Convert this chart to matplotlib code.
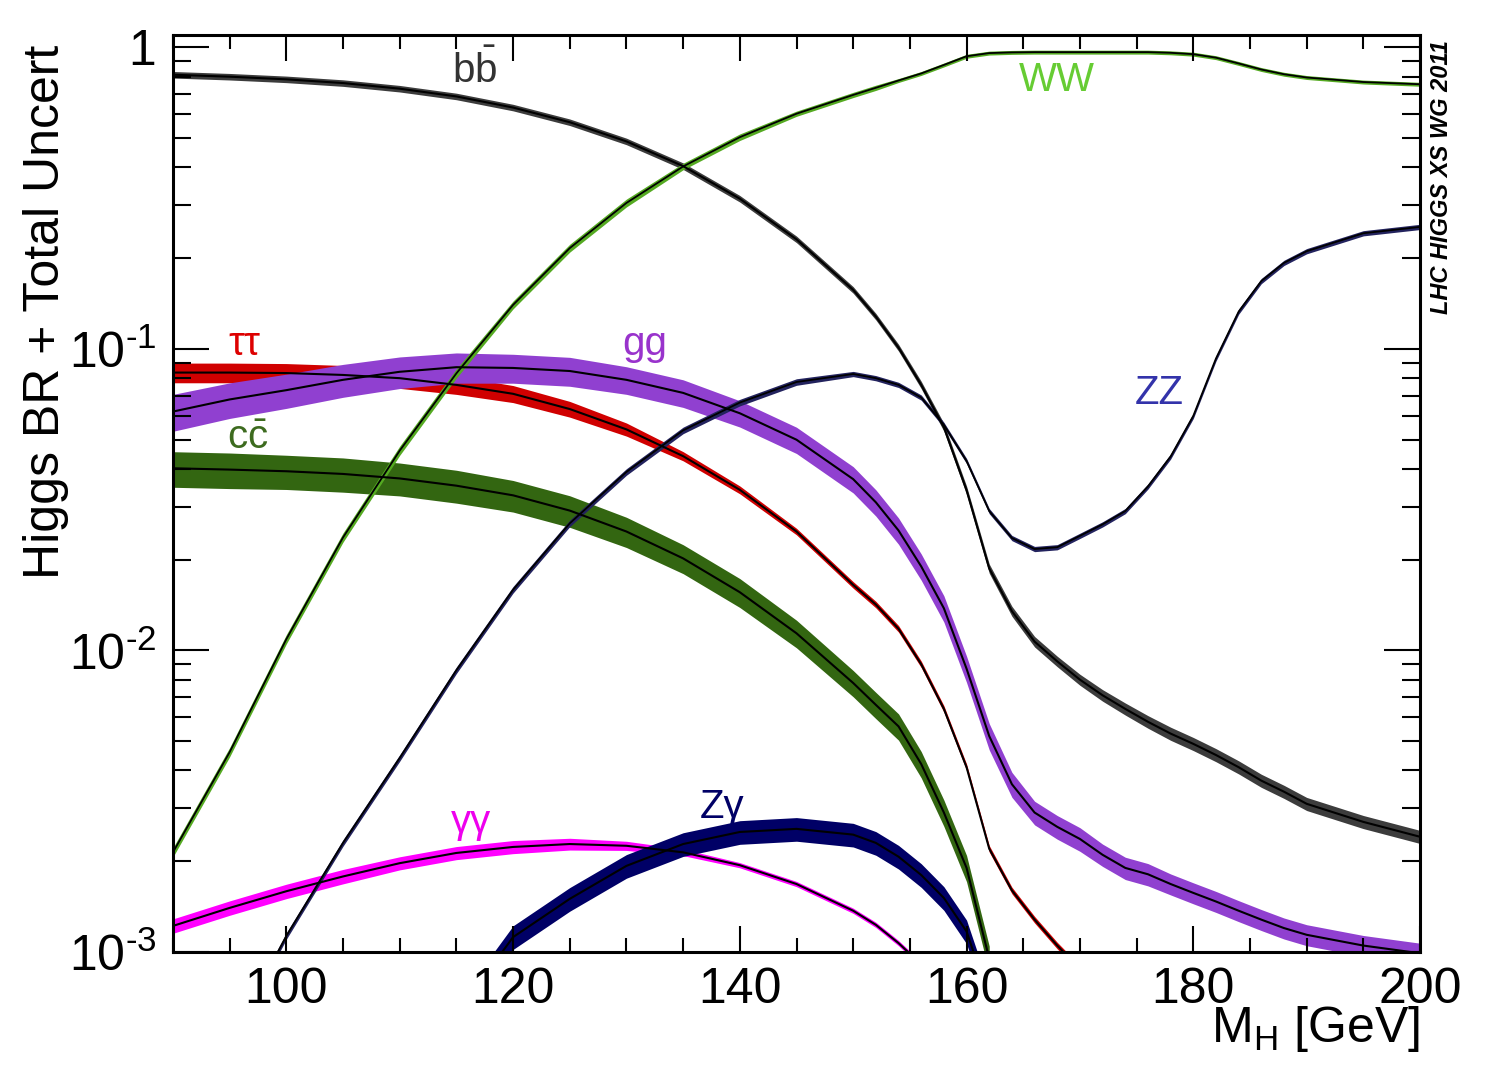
import numpy as np
import matplotlib
matplotlib.use("Agg")
import matplotlib.pyplot as plt
from matplotlib.ticker import MultipleLocator, LogLocator, NullFormatter

plt.rcParams['font.family'] = ['Liberation Sans', 'DejaVu Sans']
plt.rcParams['mathtext.fontset'] = 'custom'
plt.rcParams['mathtext.rm'] = 'Liberation Sans'
plt.rcParams['mathtext.it'] = 'Liberation Sans:italic'
plt.rcParams['mathtext.bf'] = 'Liberation Sans:bold'

nan = np.nan

# -----------------------------
# Higgs mass points [GeV]
# -----------------------------
mass = [90, 95, 100, 105, 110, 115, 120, 125, 130, 135, 140, 145, 150,
        152, 154, 156, 158, 160, 162, 164, 166, 168, 170, 172, 174, 176, 178, 180,
        182, 184, 186, 188, 190, 195, 200]

# -----------------------------
# branching ratios
# -----------------------------
br_bb = [0.812, 0.800, 0.784, 0.762, 0.730, 0.688, 0.632, 0.565, 0.488, 0.404, 0.315, 0.231, 0.157,
         0.128, 0.101, 0.076, 0.055, 0.034, 0.0187, 0.0135, 0.0107, 0.0092, 0.0080, 0.0071, 0.0064, 0.0058, 0.0053, 0.0049,
         0.0045, 0.0041, 0.0037, 0.0034, 0.0031, 0.0027, 0.00241]
br_ww = [0.00214, 0.0046, 0.0109, 0.0237, 0.046, 0.083, 0.140, 0.216, 0.305, 0.403, 0.504, 0.603, 0.696,
         0.735, 0.777, 0.820, 0.875, 0.935, 0.958, 0.963, 0.965, 0.965, 0.965, 0.965, 0.965, 0.965, 0.960, 0.950,
         0.925, 0.885, 0.845, 0.815, 0.795, 0.768, 0.755]
br_zz = [nan, 0.00050, 0.00113, 0.0023, 0.0044, 0.0086, 0.0159, 0.0264, 0.0391, 0.0537, 0.0664, 0.0777, 0.0826,
         0.080, 0.076, 0.069, 0.056, 0.0425, 0.029, 0.0236, 0.0217, 0.0220, 0.0240, 0.0262, 0.029, 0.035, 0.044, 0.060,
         0.093, 0.133, 0.168, 0.193, 0.211, 0.242, 0.254]
br_gg = [0.062, 0.068, 0.073, 0.079, 0.084, 0.087, 0.0865, 0.0845, 0.079, 0.0715, 0.0612, 0.050, 0.037,
         0.031, 0.025, 0.019, 0.0138, 0.0087, 0.0052, 0.0036, 0.0029, 0.0026, 0.00237, 0.0021, 0.0019, 0.00181, 0.00168, 0.00157,
         0.00147, 0.00137, 0.00128, 0.00120, 0.00114, 0.00105, 0.00099]
br_tautau = [0.0835, 0.0835, 0.0832, 0.0820, 0.0800, 0.0760, 0.0710, 0.0632, 0.0541, 0.0441, 0.0341, 0.0248, 0.0165,
             0.0142, 0.0118, 0.0090, 0.0064, 0.0041, 0.0022, 0.0016, 0.00128, 0.00105, 0.00088, nan, nan, nan, nan, nan,
             nan, nan, nan, nan, nan, nan, nan]
br_cc = [0.0402, 0.0398, 0.0393, 0.0385, 0.0372, 0.0352, 0.0327, 0.0291, 0.0248, 0.0202, 0.0156, 0.0114, 0.0078,
         0.0066, 0.0056, 0.0042, 0.0029, 0.0019, 0.00095, nan, nan, nan, nan, nan, nan, nan, nan, nan,
         nan, nan, nan, nan, nan, nan, nan]
br_gamgam = [0.00122, 0.00140, 0.00159, 0.00178, 0.00197, 0.00213, 0.00223, 0.00228, 0.00225, 0.00214, 0.00194, 0.00168, 0.00137,
             0.00123, 0.00107, 0.00091, nan, nan, nan, nan, nan, nan, nan, nan, nan, nan, nan, nan,
             nan, nan, nan, nan, nan, nan, nan]
br_zgam = [nan, nan, nan, nan, nan, 0.00062, 0.00112, 0.00150, 0.00193, 0.00228, 0.00250, 0.00256, 0.00245,
           0.00230, 0.00207, 0.00180, 0.00151, 0.00117, 0.00070, nan, nan, nan, nan, nan, nan, nan, nan, nan,
           nan, nan, nan, nan, nan, nan, nan]

# -----------------------------
# total uncertainty [%]
# -----------------------------
unc_bb = [2.5, 2.5, 2.5, 2.5, 2.5, 2.5, 2.5, 2.5, 2.5, 2.5, 2.5, 2.5, 2.5,
          2.5, 2.6, 2.8, 3.0, 3.2, 3.5, 3.8, 4.0, 4.0, 4.2, 4.4, 4.6, 4.8, 5.0, 5.0,
          5.0, 5.0, 5.0, 5.0, 5.0, 5.0, 5.0]
unc_ww = [3.5, 3.5, 3.5, 3.5, 3.5, 3.5, 3.0, 3.0, 3.0, 2.5, 2.5, 2.0, 2.0,
          2.0, 1.5, 1.5, 1.5, 1.5, 1.5, 1.5, 1.5, 1.5, 1.5, 1.5, 1.5, 1.5, 1.5, 1.5,
          1.5, 1.5, 1.5, 1.5, 1.5, 1.5, 1.5]
unc_zz = [2.5, 2.5, 2.5, 2.5, 2.5, 2.5, 2.5, 2.5, 2.5, 2.5, 2.5, 2.5, 2.0,
          2.0, 2.0, 2.0, 2.0, 2.0, 2.0, 2.0, 2.0, 2.0, 2.0, 2.0, 2.0, 2.0, 2.0, 2.0,
          2.0, 2.0, 2.0, 2.0, 2.0, 2.0, 2.0]
unc_gg = [14.0, 13.5, 13.0, 12.5, 12.0, 11.5, 11.0, 11.0, 10.5, 10.5, 10.0, 10.0, 10.0,
          10.0, 10.0, 10.0, 10.0, 10.0, 10.0, 9.5, 9.0, 9.0, 9.0, 8.5, 8.5, 8.5, 8.0, 8.0,
          8.0, 8.0, 8.0, 8.0, 8.0, 8.0, 8.0]
unc_tautau = [7.5, 7.5, 7.5, 7.5, 7.5, 7.0, 6.5, 6.0, 5.0, 3.5, 3.0, 2.5, 2.5,
              2.5, 2.5, 2.5, 2.5, 2.5, 2.5, 2.5, 2.5, 2.5, 2.5, 2.5, 2.5, 2.5, 2.5, 2.5,
              2.5, 2.5, 2.5, 2.5, 2.5, 2.5, 2.5]
unc_cc = [13.5, 13.5, 13.0, 13.0, 12.5, 12.5, 12.0, 12.0, 11.5, 11.0, 11.0, 10.5, 10.0,
          10.0, 10.0, 10.0, 10.0, 10.0, 10.0, 10.0, 10.0, 10.0, 10.0, 10.0, 10.0, 10.0, 10.0, 10.0,
          10.0, 10.0, 10.0, 10.0, 10.0, 10.0, 10.0]
unc_gamgam = [5.5, 5.5, 5.5, 5.5, 5.0, 5.0, 5.0, 4.5, 3.5, 2.5, 2.0, 2.0, 2.0,
              2.0, 2.0, 2.0, 2.0, 2.0, 2.0, 2.0, 2.0, 2.0, 2.0, 2.0, 2.0, 2.0, 2.0, 2.0,
              2.0, 2.0, 2.0, 2.0, 2.0, 2.0, 2.0]
unc_zgam = [9.0, 9.0, 9.0, 9.0, 9.0, 9.0, 9.0, 9.0, 9.0, 9.0, 9.0, 9.0, 9.0,
            9.0, 9.0, 9.0, 9.0, 9.0, 9.0, 9.0, 9.0, 9.0, 9.0, 9.0, 9.0, 9.0, 9.0, 9.0,
            9.0, 9.0, 9.0, 9.0, 9.0, 9.0, 9.0]

fig = plt.figure(figsize=(15, 10.83), dpi=100)
ax = fig.add_axes([0.1153, 0.121, 0.8314, 0.8467])


def draw_band(br, unc, fill_color, lw=1.5):
    br = np.array(br)
    rel = np.array(unc) / 100.0
    ax.fill_between(mass, br * (1 - rel), br * (1 + rel), color=fill_color, lw=0)
    ax.plot(mass, br, color='black', lw=lw, solid_joinstyle='round')


# -----------------------------
# bands + central values
# -----------------------------
draw_band(br_tautau, unc_tautau, '#d00000')
draw_band(br_gg, unc_gg, '#9040d0')
draw_band(br_cc, unc_cc, '#336611')
draw_band(br_gamgam, unc_gamgam, '#ff00ff')
draw_band(br_zgam, unc_zgam, '#000066')
draw_band(br_bb, unc_bb, '#3c3c3c')
draw_band(br_ww, unc_ww, '#55aa22', lw=1.3)
draw_band(br_zz, unc_zz, '#23235e', lw=1.3)

# -----------------------------
# channel labels
# -----------------------------
lab = dict(fontsize=29, ha='center', va='center')
ax.text(116.6, 0.84, r'$\mathrm{b\bar{b}}$', color='#333333', **lab)
ax.text(168.0, 0.78, 'WW', color='#66cc33', **lab)
ax.text(177.0, 0.0714, 'ZZ', color='#3333aa', **lab)
ax.text(96.3, 0.104, 'ττ', color='#dd0000', **lab)
ax.text(131.6, 0.104, 'gg', color='#9933cc', **lab)
ax.text(96.6, 0.0506, r'$\mathrm{c\bar{c}}$', color='#3d6b1f', **lab)
ax.text(116.3, 0.0027, 'γγ', color='#ee00ee', **lab)
ax.text(138.4, 0.00303, 'Zγ', color='#000066', **lab)

# -----------------------------
# axes
# -----------------------------
ax.set_yscale('log')
ax.set_xlim(90, 200)
ax.set_ylim(0.001, 1.1)

ax.set_xticks([100, 120, 140, 160, 180, 200])
ax.xaxis.set_minor_locator(MultipleLocator(5))
ax.set_yticks([1e-3, 1e-2, 1e-1, 1],
              labels=['$10^{\u2010\\mathregular{3}}$', '$10^{\u2010\\mathregular{2}}$',
                      '$10^{\u2010\\mathregular{1}}$', '1'])
ax.yaxis.set_minor_locator(LogLocator(base=10, subs=np.arange(2, 10)))
ax.yaxis.set_minor_formatter(NullFormatter())

ax.tick_params(which='both', direction='in', top=True, right=True, width=1.5, labelsize=36)
ax.tick_params(axis='x', which='major', length=19, pad=11)
ax.tick_params(axis='x', which='minor', length=10)
ax.tick_params(axis='y', which='major', length=26, pad=12)
ax.tick_params(axis='y', which='minor', length=13)
for s in ax.spines.values():
    s.set_linewidth(2.2)

ax.set_ylabel('Higgs BR + Total Uncert', fontsize=36, loc='top')
ax.yaxis.set_label_coords(-0.083, 0.989)
ax.set_xlabel(r'M$_\mathrm{H}$ [GeV]', fontsize=36, loc='right')
ax.xaxis.set_label_coords(1.0, -0.057)

fig.text(1441 / 1500, 1 - 40 / 1083, 'LHC HIGGS XS WG 2011', rotation=90, ha='center', va='top',
         fontsize=17, fontweight='bold', fontstyle='italic')

fig.savefig('out.png', dpi=100)
